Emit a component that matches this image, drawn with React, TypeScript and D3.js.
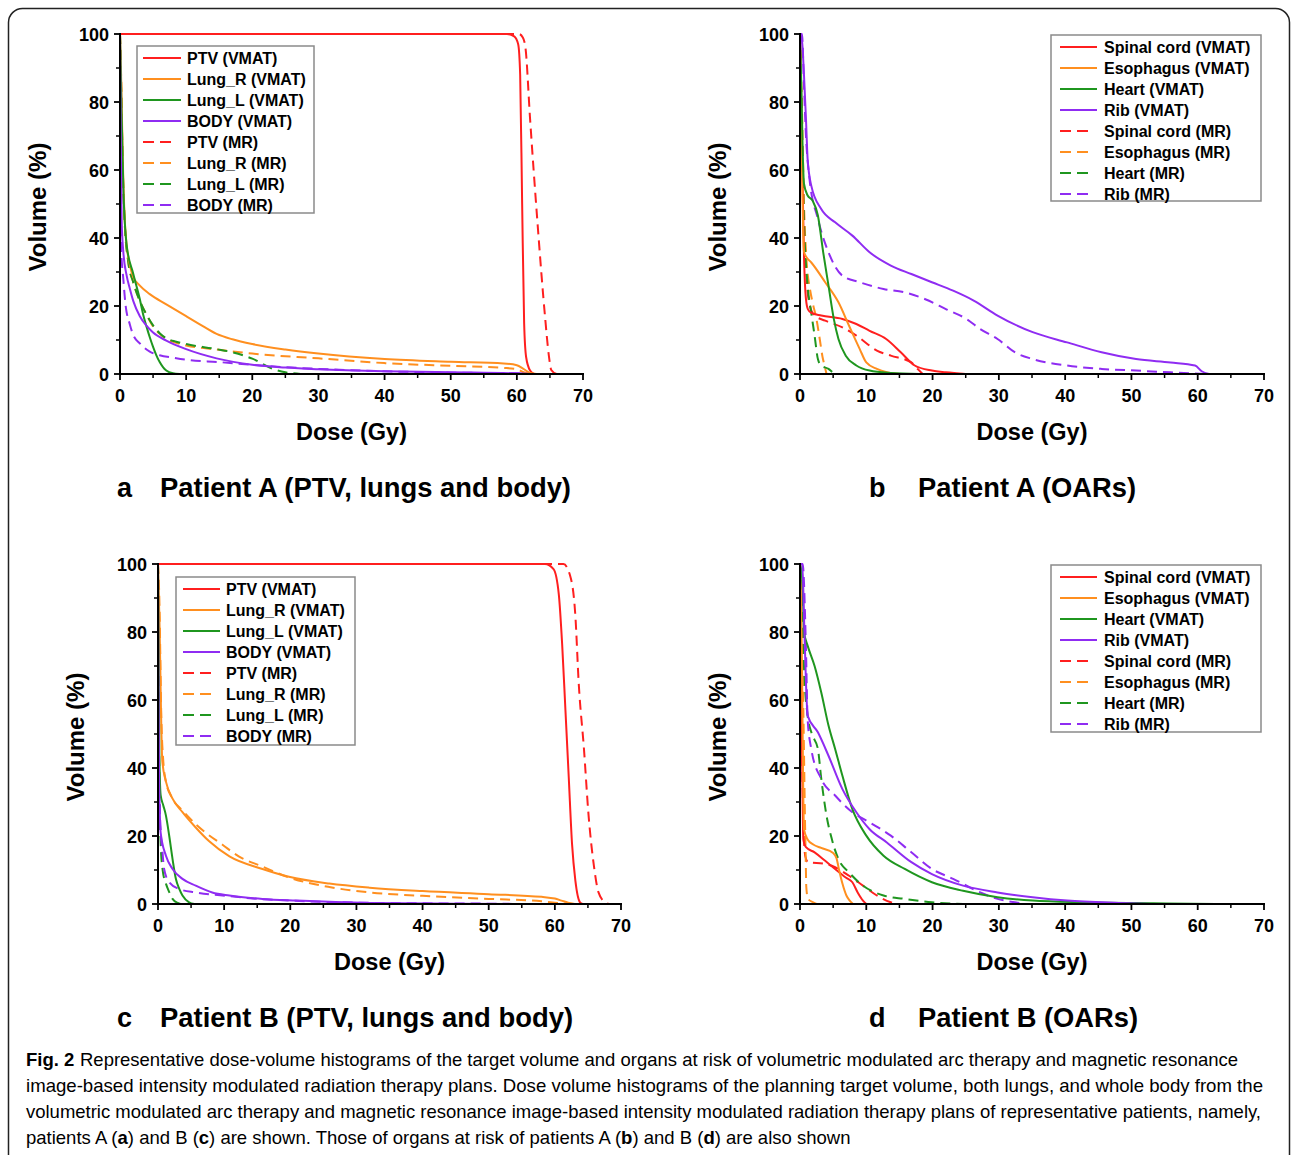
import React from "react";
import * as d3 from "d3";

type Pt = [number, number];

// ---------- axis ticks ----------
const doseTicks = [0, 10, 20, 30, 40, 50, 60, 70];
const doseMinor = [5, 15, 25, 35, 45, 55, 65];
const volTicks = [0, 20, 40, 60, 80, 100];
const volMinor = [10, 30, 50, 70, 90];

// ---------- legends ----------
const ptvLegend = ["PTV (VMAT)", "Lung_R (VMAT)", "Lung_L (VMAT)", "BODY (VMAT)", "PTV (MR)", "Lung_R (MR)", "Lung_L (MR)", "BODY (MR)"];
const oarLegend = ["Spinal cord (VMAT)", "Esophagus (VMAT)", "Heart (VMAT)", "Rib (VMAT)", "Spinal cord (MR)", "Esophagus (MR)", "Heart (MR)", "Rib (MR)"];
const seriesColors = ["#ff1f1f", "#ff8f1f", "#1f961f", "#8f2cf2"];

// ---------- panel a : Patient A (PTV, lungs, body) ----------
const aPtvVmat: Pt[] = [[0,100],[58.5,100],[59.6,99.3],[60.2,97],[60.5,88],[60.8,50],[61.1,15],[61.4,5],[62,1],[62.6,0]];
const aLungRVmat: Pt[] = [[0,100],[0.2,85],[0.4,65],[0.7,46],[1,38],[1.5,32],[2,28.5],[3,26],[4.5,23.5],[7,20.5],[10,17],[12,14.7],[14.6,11.8],[17,10.2],[20,8.8],[25,7.2],[30,6],[40,4.4],[50,3.6],[58,3.1],[60,2.6],[61,1.5],[62,0.3],[63,0]];
const aLungLVmat: Pt[] = [[0,100],[0.2,80],[0.5,55],[1,38],[2,29.5],[3,22],[3.5,17.5],[4,14],[4.5,10.8],[5,8],[5.5,5.5],[6,3.5],[6.5,2],[7,1],[8,0.2],[9,0]];
const aBodyVmat: Pt[] = [[0,100],[0.1,70],[0.25,45],[0.5,36],[1,29],[1.5,25],[2,21.5],[3,17],[4,14.2],[5,12.2],[7,9.8],[10,7.3],[14.6,4.6],[20,2.7],[25,1.9],[30,1.4],[40,0.8],[50,0.5],[60,0.2],[62,0]];
const aPtvMr: Pt[] = [[0,100],[60.3,100],[60.9,99],[61.3,96],[62,75],[63.1,45],[64.3,16],[64.8,6],[65.2,1.2],[66,0]];
const aLungRMr: Pt[] = [[0,100],[0.2,85],[0.4,62],[0.7,45],[1.25,33],[2,27],[3,21.5],[4,17.5],[5,14],[6,11.8],[7,10.3],[8.5,9.2],[10,8.4],[14.6,7.2],[20,6],[30,4.6],[40,3.2],[50,2.4],[58,1.8],[60,1.4],[61,0.5],[62,0]];
const aLungLMr: Pt[] = [[0,100],[0.2,82],[0.4,62],[0.7,45],[1.25,33],[2,27],[3,21.5],[4,17.5],[5,14.3],[6,12],[7,10.5],[8.5,9.5],[10,8.8],[14.6,7.3],[17,6.4],[20,4.5],[23,1.6],[25,0.5],[27,0.1],[28,0]];
const aBodyMr: Pt[] = [[0,100],[0.1,60],[0.2,36],[0.5,28],[0.8,21],[1.5,14.5],[2,11.5],[3,9],[4.5,6.6],[6,5.5],[8,4.8],[10,4.2],[15,3.5],[20,2.7],[25,2],[30,1.5],[40,0.8],[50,0.4],[60,0.2],[62,0]];

// ---------- panel b : Patient A (OARs) ----------
const bCordVmat: Pt[] = [[0,100],[0.2,80],[0.4,55],[0.6,35],[0.9,22],[1.2,19],[1.7,18],[3.2,17.2],[6.4,16.2],[8.5,14.7],[10.5,12.7],[13,10.3],[15.2,6.4],[17.3,2.5],[19.9,1],[22,0.5],[25,0]];
const bEsoVmat: Pt[] = [[0,100],[0.2,75],[0.4,50],[0.6,36],[1,34.3],[1.7,32.8],[3.8,27],[5.8,21.1],[7.4,14.2],[9,7.4],[10,3.4],[11.6,1.5],[13.1,0.5],[15,0]];
const bHeartVmat: Pt[] = [[0,100],[0.2,85],[0.4,66],[0.6,56],[1.15,52.5],[1.9,51],[2.7,46.6],[3.5,35.8],[4.3,26],[5.1,16.2],[5.8,10.3],[6.9,5.4],[8.5,2.5],[10.5,1],[13.7,0.3],[18,0]];
const bRibVmat: Pt[] = [[0,100],[0.3,98],[0.6,88],[0.9,75],[1.15,63.2],[1.7,55.4],[3.2,48.5],[5.3,44.6],[7.9,40.7],[10.5,35.8],[13.7,31.9],[16.8,29.4],[19.9,27],[23.1,24.5],[26.2,21.6],[29.8,17.2],[35.1,12.3],[40.3,9.3],[45.5,6.4],[50.7,4.4],[55.9,3.4],[59.6,2.5],[60.6,0.8],[61.7,0]];
const bCordMr: Pt[] = [[0,100],[0.3,70],[0.6,45],[1,28],[1.5,20],[2.2,17.2],[3.8,15.7],[6.4,13.7],[8.5,11.3],[11.6,6.9],[13.7,5.4],[16.8,3.4],[17.5,2],[18.5,0]];
const bEsoMr: Pt[] = [[0,100],[0.3,78],[0.6,50],[1,33],[1.5,25],[1.9,21],[2.5,16],[3,10],[3.4,5],[3.7,2.5],[4,0]];
const bHeartMr: Pt[] = [[0,100],[0.2,80],[0.4,60],[0.6,45],[1.15,26],[1.7,18],[2.2,11.3],[2.7,4.4],[3.2,2.5],[4.3,1.5],[5.1,0.3],[5.5,0]];
const bRibMr: Pt[] = [[0,100],[0.3,100],[0.6,85],[0.9,70],[1.4,58],[2.7,45.6],[4.3,35.8],[6.4,28.9],[9,27],[12.6,25],[15.8,24],[18.9,22],[22,19.1],[25.1,16.2],[27.2,13.2],[29.8,10.3],[32.4,6.4],[35.1,4.4],[40.3,2.5],[45.5,1.5],[50.7,1],[55.9,0.5],[61.1,0]];

// ---------- panel c : Patient B (PTV, lungs, body) ----------
const cPtvVmat: Pt[] = [[0,100],[58.5,100],[59.8,98.5],[60.6,91],[61.1,76.5],[61.6,57],[62.1,37.3],[62.6,17.6],[63.1,6.9],[63.8,0.5],[64.2,0]];
const cLungRVmat: Pt[] = [[0,100],[0.2,85],[0.65,42],[1.2,36],[2.2,31],[3.7,27],[5.7,22.5],[7.7,18.5],[10.8,14],[15.8,10.3],[19.8,8],[25.9,6],[32,4.8],[40,3.8],[50,2.9],[58,2.1],[60,1.6],[61,1],[62,0.4],[63,0]];
const cLungLVmat: Pt[] = [[0,100],[0.1,70],[0.2,45],[0.4,32],[0.8,29],[1.2,26],[1.7,20],[2.2,13.2],[2.7,7.4],[3.2,4.5],[3.7,2.5],[4.7,0.5],[5.5,0]];
const cBodyVmat: Pt[] = [[0,100],[0.05,70],[0.15,40],[0.3,25],[0.4,21],[1.2,14.2],[2.2,10.3],[3.7,7.4],[5.7,5.4],[8.2,3.4],[10.8,2.5],[15.8,1.5],[20.9,1],[32,0.3],[45,0.1],[55,0]];
const cPtvMr: Pt[] = [[0,100],[61.3,100],[62.3,96.6],[63.1,84.8],[63.6,65.2],[64.4,45.6],[65.1,26],[65.9,11.3],[66.6,3.4],[67.6,0.5],[68.2,0]];
const cLungRMr: Pt[] = [[0,100],[0.2,90],[0.5,55],[0.8,42],[1.2,36],[2.2,31],[3.7,27.5],[5.7,23.5],[7.2,21],[9.7,17.5],[12.2,14],[15.8,11],[19.8,7.8],[25.9,5],[32,3.4],[40,2.4],[50,1.5],[58,0.8],[60,0.4],[62,0]];
const cLungLMr: Pt[] = [[0,100],[0.1,65],[0.2,35],[0.4,18],[0.7,10],[1.2,6],[1.7,3.5],[2.2,1.5],[3,0.3],[3.5,0]];
const cBodyMr: Pt[] = [[0,100],[0.1,60],[0.25,30],[0.45,20],[0.65,16],[0.9,10.5],[1.7,6.4],[3.2,4.4],[5.7,3.4],[10.8,2.3],[15.8,1.4],[20,1],[30,0.4],[40,0.2],[50,0.1],[55,0]];

// ---------- panel d : Patient B (OARs) ----------
const dCordVmat: Pt[] = [[0,100],[0.1,85],[0.25,55],[0.4,30],[0.5,19],[0.9,16.7],[2.2,15.2],[3.8,12.7],[5.3,10.3],[6.9,7.8],[7.9,6.4],[8.7,3.4],[9.5,1],[10,0]];
const dEsoVmat: Pt[] = [[0,100],[0.15,90],[0.3,70],[0.45,40],[0.6,22],[1.15,19],[2,17.5],[3.2,16.5],[5,15],[5.5,13.5],[5.9,10],[6.4,6],[7,2.5],[7.5,1],[8,0]];
const dHeartVmat: Pt[] = [[0,100],[0.4,94],[0.6,80],[1.15,76],[2.2,70],[3.2,62.3],[4.3,52.5],[5.3,45.6],[6.4,37.7],[7.9,27.9],[10,20.1],[12.6,14.2],[15.8,10.3],[19.9,6.4],[24.6,3.9],[29.8,2],[35.1,1],[42.9,0.5],[53.3,0.2],[62.7,0]];
const dRibVmat: Pt[] = [[0,100],[0.35,100],[0.6,84.8],[0.9,65.2],[1.15,55.4],[2.7,50.5],[4.3,43.6],[6.4,33.8],[8.5,27],[10.5,22],[13.1,18.1],[16.8,12.3],[19.9,8.8],[24.6,5.4],[29.8,3.4],[35.1,2],[40.3,1],[48.1,0.3],[53,0]];
const dCordMr: Pt[] = [[0,100],[0.15,80],[0.3,50],[0.5,25],[0.8,14],[1.2,12.3],[3.8,11.8],[5.3,10.8],[7.4,8.3],[9.5,5.4],[11.6,2.5],[13.7,0.5],[14.5,0]];
const dEsoMr: Pt[] = [[0,100],[0.2,90],[0.4,70],[0.6,45],[0.75,25],[0.85,15],[0.95,5],[1.2,1.5],[2,0.5],[2.5,0]];
const dHeartMr: Pt[] = [[0,100],[0.3,90],[0.6,70],[1.15,55.4],[1.8,50],[2.7,45.6],[3.2,37],[4,26],[4.8,19.1],[5.8,13.2],[7.4,9.3],[9.5,5.4],[12.6,2.5],[15.8,1.5],[19.9,0.5],[24.6,0]];
const dRibMr: Pt[] = [[0,100],[0.4,100],[0.9,75],[1.15,54.4],[1.7,45.6],[3.2,36.8],[5.3,31.9],[7.9,27],[10.5,24],[13.7,20.1],[16.8,15.2],[19.9,10.3],[23.1,7.4],[27.2,3.4],[29.8,1.5],[32.4,0.5],[34,0]];

// ---------- captions ----------
const captionLines = [
  "Representative dose-volume histograms of the target volume and organs at risk of volumetric modulated arc therapy and magnetic resonance",
  "image-based intensity modulated radiation therapy plans. Dose volume histograms of the planning target volume, both lungs, and whole body from the",
  "volumetric modulated arc therapy and magnetic resonance image-based intensity modulated radiation therapy plans of representative patients, namely,",
];

const FONT = "'Liberation Sans', Arial, Helvetica, sans-serif";

type PanelCfg = {
  left: number; right: number; top: number; bottom: number;
  vmat: Pt[][]; mr: Pt[][]; legend: string[];
  lg: { x: number; y: number; w: number; h: number; lx0: number; lx1: number; tx: number };
};

const panels: PanelCfg[] = [
  { left: 120, right: 583, top: 34, bottom: 374, vmat: [aPtvVmat, aLungRVmat, aLungLVmat, aBodyVmat], mr: [aPtvMr, aLungRMr, aLungLMr, aBodyMr], legend: ptvLegend,
    lg: { x: 137, y: 46, w: 177, h: 167, lx0: 6, lx1: 44, tx: 50 } },
  { left: 800, right: 1264, top: 34, bottom: 374, vmat: [bCordVmat, bEsoVmat, bHeartVmat, bRibVmat], mr: [bCordMr, bEsoMr, bHeartMr, bRibMr], legend: oarLegend,
    lg: { x: 1051, y: 35, w: 210, h: 166, lx0: 9, lx1: 46, tx: 53 } },
  { left: 158, right: 621, top: 564, bottom: 904, vmat: [cPtvVmat, cLungRVmat, cLungLVmat, cBodyVmat], mr: [cPtvMr, cLungRMr, cLungLMr, cBodyMr], legend: ptvLegend,
    lg: { x: 176, y: 577, w: 179, h: 168, lx0: 7, lx1: 44, tx: 50 } },
  { left: 800, right: 1264, top: 564, bottom: 904, vmat: [dCordVmat, dEsoVmat, dHeartVmat, dRibVmat], mr: [dCordMr, dEsoMr, dHeartMr, dRibMr], legend: oarLegend,
    lg: { x: 1051, y: 565, w: 210, h: 167, lx0: 9, lx1: 46, tx: 53 } },
];

function Panel({ cfg }: { cfg: PanelCfg }) {
  const x = d3.scaleLinear().domain([0, 70]).range([cfg.left, cfg.right]);
  const y = d3.scaleLinear().domain([0, 100]).range([cfg.bottom, cfg.top]);
  const line = d3.line<Pt>().x((d) => x(d[0])).y((d) => y(d[1])).curve(d3.curveMonotoneX);
  const lg = cfg.lg;
  return (
    <g>
      {cfg.mr.map((s, i) => (
        <path key={"m" + i} d={line(s) || ""} fill="none" stroke={seriesColors[i]} strokeWidth={2} strokeDasharray="10,6" />
      ))}
      {cfg.vmat.map((s, i) => (
        <path key={"v" + i} d={line(s) || ""} fill="none" stroke={seriesColors[i]} strokeWidth={2} />
      ))}
      <line x1={cfg.left} x2={cfg.left} y1={cfg.top - 1} y2={cfg.bottom + 1} stroke="#000" strokeWidth={2} />
      <line x1={cfg.left - 1} x2={cfg.right + 1} y1={cfg.bottom} y2={cfg.bottom} stroke="#000" strokeWidth={2} />
      {doseTicks.map((t) => (
        <g key={"xt" + t}>
          <line x1={x(t)} x2={x(t)} y1={cfg.bottom} y2={cfg.bottom + 6} stroke="#000" strokeWidth={1.8} />
          <text x={x(t)} y={cfg.bottom + 28} textAnchor="middle" fontFamily={FONT} fontWeight="bold" fontSize={18}>{t}</text>
        </g>
      ))}
      {doseMinor.map((t) => (
        <line key={"xm" + t} x1={x(t)} x2={x(t)} y1={cfg.bottom} y2={cfg.bottom + 4} stroke="#000" strokeWidth={1.5} />
      ))}
      {volTicks.map((t) => (
        <g key={"yt" + t}>
          <line x1={cfg.left - 6} x2={cfg.left} y1={y(t)} y2={y(t)} stroke="#000" strokeWidth={1.8} />
          <text x={cfg.left - 11} y={y(t) + 6.5} textAnchor="end" fontFamily={FONT} fontWeight="bold" fontSize={18}>{t}</text>
        </g>
      ))}
      {volMinor.map((t) => (
        <line key={"ym" + t} x1={cfg.left - 4} x2={cfg.left} y1={y(t)} y2={y(t)} stroke="#000" strokeWidth={1.5} />
      ))}
      <text x={(cfg.left + cfg.right) / 2} y={cfg.bottom + 66} textAnchor="middle" fontFamily={FONT} fontWeight="bold" fontSize={23.5}>Dose (Gy)</text>
      <text transform={`translate(${cfg.left - 74},${(cfg.top + cfg.bottom) / 2 + 3}) rotate(-90)`} textAnchor="middle" fontFamily={FONT} fontWeight="bold" fontSize={24}>Volume (%)</text>
      <rect x={lg.x} y={lg.y} width={lg.w} height={lg.h} fill="#fff" stroke="#8a8a8a" strokeWidth={1.5} />
      {cfg.legend.map((label, i) => {
        const cy = lg.y + 12 + i * 21;
        const dashed = i >= 4;
        return (
          <g key={"lg" + i}>
            <line x1={lg.x + lg.lx0} x2={dashed ? lg.x + lg.lx0 + 28 : lg.x + lg.lx1} y1={cy} y2={cy}
              stroke={seriesColors[i % 4]} strokeWidth={2} strokeDasharray={dashed ? "11,6" : undefined} />
            <text x={lg.x + lg.tx} y={cy + 5.5} fontFamily={FONT} fontWeight="bold" fontSize={16}>{label}</text>
          </g>
        );
      })}
    </g>
  );
}

const panelTitles = [
  { letter: "a", text: "Patient A (PTV, lungs and body)", lx: 117, tx: 160, y: 497, w: 411 },
  { letter: "b", text: "Patient A (OARs)", lx: 869, tx: 918, y: 497, w: 218 },
  { letter: "c", text: "Patient B (PTV, lungs and body)", lx: 117, tx: 160, y: 1027, w: 413 },
  { letter: "d", text: "Patient B (OARs)", lx: 869, tx: 918, y: 1027, w: 220 },
];

const CAP_FONT = "'Liberation Sans', Arial, sans-serif";
const CAP_SIZE = 18.5;

export default function App() {
  return (
    <svg width={1292} height={1155} viewBox="0 0 1292 1155" style={{ position: "absolute", left: 0, top: 0, background: "#fff" }}>
      <rect x={0} y={0} width={1292} height={1155} fill="#fff" />
      <rect x={8.5} y={8.5} width={1281} height={1180} rx={14} ry={14} fill="none" stroke="#222" strokeWidth={1.5} />
      {panels.map((p, i) => <Panel key={i} cfg={p} />)}
      {panelTitles.map((t) => (
        <g key={t.letter}>
          <text x={t.lx} y={t.y} fontFamily={FONT} fontWeight="bold" fontSize={27}>{t.letter}</text>
          <text x={t.tx} y={t.y} fontFamily={FONT} fontWeight="bold" fontSize={27} textLength={t.w} lengthAdjust="spacingAndGlyphs">{t.text}</text>
        </g>
      ))}
      <text x={26} y={1066} fontFamily={CAP_FONT} fontSize={CAP_SIZE} fontWeight="bold">Fig. 2</text>
      <text x={80} y={1066} fontFamily={CAP_FONT} fontSize={CAP_SIZE} textLength={1158} lengthAdjust="spacingAndGlyphs">{captionLines[0]}</text>
      <text x={26} y={1092} fontFamily={CAP_FONT} fontSize={CAP_SIZE} textLength={1237} lengthAdjust="spacingAndGlyphs">{captionLines[1]}</text>
      <text x={26} y={1118} fontFamily={CAP_FONT} fontSize={CAP_SIZE} textLength={1235} lengthAdjust="spacingAndGlyphs">{captionLines[2]}</text>
      <text x={26} y={1144} fontFamily={CAP_FONT} fontSize={CAP_SIZE}>
        patients A (<tspan fontWeight="bold">a</tspan>) and B (<tspan fontWeight="bold">c</tspan>) are shown. Those of organs at risk of patients A (<tspan fontWeight="bold">b</tspan>) and B (<tspan fontWeight="bold">d</tspan>) are also shown
      </text>
    </svg>
  );
}
